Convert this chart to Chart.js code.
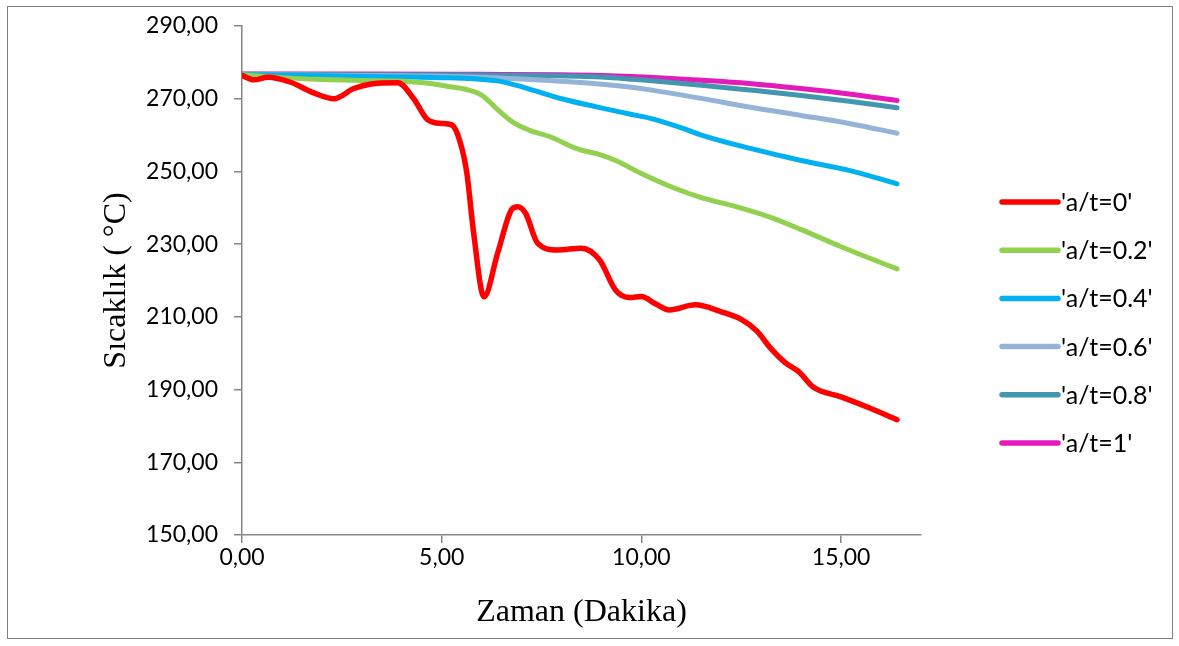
<!DOCTYPE html>
<html>
<head>
<meta charset="utf-8">
<script src="https://cdn.jsdelivr.net/npm/chart.js@4/dist/chart.umd.min.js"></script>
<style>
  html, body { margin: 0; padding: 0; background: #ffffff; }
  #wrap { width: 1179px; height: 646px; position: relative; }
</style>
</head>
<body>
<div id="wrap"><canvas id="c" width="1179" height="646"></canvas></div>
<script>
// ---- Data ----
const seriesLabels = ["'a/t=0'", "'a/t=0.2'", "'a/t=0.4'", "'a/t=0.6'", "'a/t=0.8'", "'a/t=1'"];
const seriesColors = ["#FF0000", "#92D050", "#00B0F0", "#95B3D7", "#4396B0", "#E31BBA"];

const timeA0 = [0, 0.3, 0.65, 1.2, 1.8, 2.3, 2.8, 3.2, 3.9, 4.3, 4.65, 5.0, 5.25, 5.45, 5.63, 5.8, 6.06, 6.4, 6.75, 6.9, 7.1, 7.4, 7.9, 8.5, 8.95, 9.35, 9.7, 10.0, 10.35, 10.7, 11.35, 12.0, 12.5, 12.9, 13.2, 13.6, 13.95, 14.3, 15.0, 15.7, 16.4];
const tempA0 = [276.4, 275.2, 275.9, 274.6, 271.6, 270.0, 272.8, 274.0, 274.4, 270.0, 264.2, 263.2, 262.8, 258.5, 249.5, 233.0, 215.5, 227.5, 239.5, 240.3, 238.5, 230.3, 228.4, 228.9, 225.7, 217.4, 215.3, 215.6, 213.6, 211.9, 213.3, 211.4, 209.3, 206.0, 201.8, 197.4, 194.8, 190.7, 188.0, 185.0, 181.7];

const timeA02 = [0, 1, 2, 3, 4, 4.7, 5.2, 5.6, 6.0, 6.4, 6.8, 7.2, 7.7, 8.4, 8.9, 9.4, 10.0, 10.8, 11.5, 12.3, 13.2, 14.0, 15.0, 15.7, 16.4];
const tempA02 = [276.6, 275.8, 275.3, 275.0, 274.8, 274.2, 273.3, 272.6, 271.0, 267.0, 263.4, 261.3, 259.6, 256.2, 254.8, 252.8, 249.4, 245.5, 242.8, 240.5, 237.5, 234.0, 229.3, 226.2, 223.2];

const timeA04 = [0, 2, 4, 5, 5.8, 6.4, 6.9, 7.3, 8.0, 8.9, 9.7, 10.3, 11.0, 11.5, 12.7, 14.0, 15.2, 16.4];
const tempA04 = [276.6, 276.3, 276.0, 275.8, 275.5, 274.9, 273.6, 272.3, 270.0, 267.7, 265.8, 264.4, 262.0, 260.0, 256.4, 253.0, 250.3, 246.6];

const timeA06 = [0, 3, 5, 6, 7, 8, 9, 9.7, 10.3, 11.5, 12.7, 14.0, 15.2, 16.4];
const tempA06 = [276.6, 276.4, 276.2, 275.9, 275.4, 274.8, 274.0, 273.2, 272.3, 270.1, 267.7, 265.4, 263.2, 260.5];

const timeA08 = [0, 3, 6, 8, 9, 10.2, 11.5, 12.7, 14.0, 15.2, 16.4];
const tempA08 = [276.7, 276.6, 276.5, 276.3, 276.0, 275.0, 273.7, 272.4, 270.9, 269.3, 267.5];

const timeA1 = [0, 3, 6, 8, 9, 10.2, 11.5, 12.7, 14.0, 15.2, 16.4];
const tempA1 = [276.8, 276.8, 276.7, 276.6, 276.4, 275.9, 275.1, 274.2, 272.8, 271.3, 269.5];

const xTicks = [0, 5, 10, 15];
const yTicks = [150, 170, 190, 210, 230, 250, 270, 290];

const allTimes = [timeA0, timeA02, timeA04, timeA06, timeA08, timeA1];
const allTemps = [tempA0, tempA02, tempA04, tempA06, tempA08, tempA1];
const lineWidths = [5.5, 5, 5, 5, 5, 5];

const datasets = allTimes.map((ts, i) => ({
  label: seriesLabels[i],
  data: ts.map((t, k) => ({ x: t, y: allTemps[i][k] })),
  borderColor: seriesColors[i],
  backgroundColor: seriesColors[i],
  borderWidth: lineWidths[i],
  pointRadius: 0,
  fill: false,
  cubicInterpolationMode: 'monotone',
  borderCapStyle: 'round',
  borderJoinStyle: 'round'
}));

const fmt = v => Number(v).toFixed(2).replace('.', ',');

const frameAndLegend = {
  id: 'frameAndLegend',
  beforeDraw(chart) {
    const ctx = chart.ctx;
    ctx.save();
    ctx.fillStyle = '#ffffff';
    ctx.fillRect(0, 0, chart.width, chart.height);
    ctx.strokeStyle = '#7f7f7f';
    ctx.lineWidth = 1;
    ctx.strokeRect(7.5, 6.5, 1165, 632);
    ctx.restore();
  },
  afterDraw(chart) {
    const ctx = chart.ctx;
    ctx.save();
    const x0 = 1002, x1 = 1058, y0 = 202, step = 48.2;
    chart.data.datasets.forEach((ds, i) => {
      const y = y0 + i * step;
      ctx.strokeStyle = ds.borderColor;
      ctx.lineWidth = 5.5;
      ctx.lineCap = 'round';
      ctx.beginPath();
      ctx.moveTo(x0, y);
      ctx.lineTo(x1, y);
      ctx.stroke();
      ctx.fillStyle = '#000000';
      ctx.font = '25px Lato';
      ctx.textBaseline = 'middle';
      ctx.textAlign = 'left';
      ctx.fillText(ds.label, 1061, y + 1);
    });
    ctx.restore();
  }
};

new Chart(document.getElementById('c'), {
  type: 'line',
  data: { datasets },
  plugins: [frameAndLegend],
  options: {
    responsive: false,
    animation: false,
    layout: { padding: { left: 0, top: 26, right: 258, bottom: 0 } },
    plugins: { legend: { display: false }, tooltip: { enabled: false } },
    scales: {
      x: {
        type: 'linear',
        min: 0, max: 17,
        afterFit(scale) { scale.height = 111; scale.paddingLeft = 0; scale.paddingRight = 0; },
        afterBuildTicks(scale) { scale.ticks = xTicks.map(v => ({ value: v })); },
        ticks: {
          callback: v => fmt(v),
          font: { family: 'Lato', size: 23 },
          color: '#000000',
          padding: 1,
          maxRotation: 0
        },
        grid: { display: true, drawOnChartArea: false, drawTicks: true, tickLength: 8, color: '#868686', lineWidth: 1.5 },
        border: { display: true, color: '#868686', width: 1.5 },
        title: {
          display: true,
          text: 'Zaman (Dakika)',
          font: { family: 'Liberation Serif', size: 32 },
          color: '#000000',
          padding: { top: 0, bottom: 14 }
        }
      },
      y: {
        type: 'linear',
        min: 150, max: 290,
        afterFit(scale) { scale.width = 242; scale.paddingTop = 0; scale.paddingBottom = 0; },
        afterBuildTicks(scale) { scale.ticks = yTicks.map(v => ({ value: v })); },
        ticks: {
          callback: v => fmt(v),
          font: { family: 'Lato', size: 23 },
          color: '#000000',
          padding: 16
        },
        grid: { display: true, drawOnChartArea: false, drawTicks: true, tickLength: 8, color: '#868686', lineWidth: 1.5 },
        border: { display: true, color: '#868686', width: 1.5 },
        title: {
          display: true,
          text: 'Sıcaklık ( °C)',
          font: { family: 'Liberation Serif', size: 32 },
          color: '#000000',
          padding: { top: 97, bottom: 0 }
        }
      }
    }
  }
});
</script>
</body>
</html>
